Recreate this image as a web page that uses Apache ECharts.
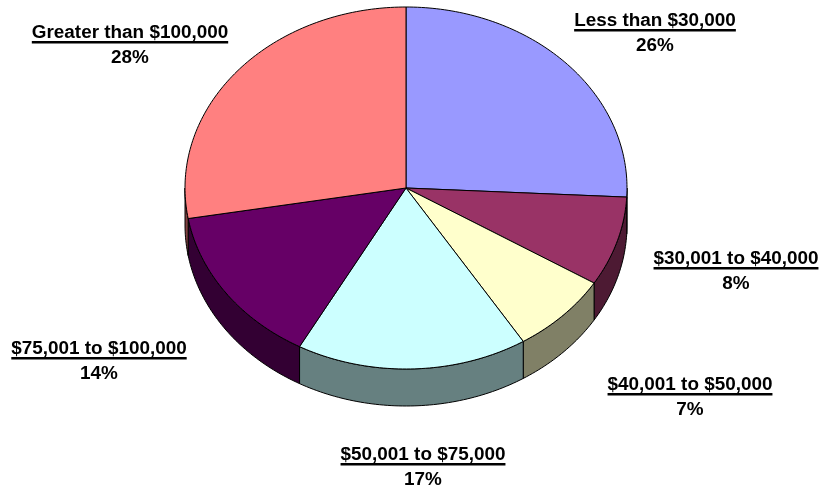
<!DOCTYPE html>
<html>
<head>
<meta charset="utf-8">
<style>html,body{margin:0;padding:0;background:#fff}#c{width:821px;height:488px}</style>
<script src="https://cdn.jsdelivr.net/npm/echarts@6/dist/echarts.min.js"></script>
</head>
<body>
<div id="c"></div>
<script>
const categories = ['Less than $30,000','$30,001 to $40,000','$40,001 to $50,000','$50,001 to $75,000','$75,001 to $100,000','Greater than $100,000'];
const shares = [25.8, 8, 7.3, 16.9, 14.3, 27.7];
const topColors = ['#9999FF','#993366','#FFFFCC','#CCFFFF','#660066','#FF8080'];
const wallColors = ['#4D4D80','#4D1A33','#808066','#668080','#330033','#804040'];

// Layout of the tilted pie and of the label block centres (not data)
const PIE = {cx: 406, cy: 188, rx: 221, ry: 181, depth: 37};
const LABEL_POS = [[655,20],[736,258],[690,384],[423,454],[99,348],[130,32]];
const FONT_SIZE = 18.9;
const FONT = 'bold ' + FONT_SIZE + 'px "Liberation Sans", Arial, sans-serif';

const total = shares.reduce((a,b)=>a+b,0);
const rows = shares.map((v,i)=>{
  const before = shares.slice(0,i).reduce((a,b)=>a+b,0);
  return [i, v, before/total*360, (before+v)/total*360];
});
const pt = (deg,dy) => {
  const r = deg*Math.PI/180;
  return [PIE.cx+PIE.rx*Math.sin(r), PIE.cy-PIE.ry*Math.cos(r)+(dy||0)];
};
const arc = (a,b,dy) => {
  const n = Math.max(2,Math.ceil(Math.abs(b-a)));
  const out=[];
  for(let k=0;k<=n;k++) out.push(pt(a+(b-a)*k/n,dy));
  return out;
};
const measure = document.createElement('canvas').getContext('2d');
measure.font = FONT;

const chart = echarts.init(document.getElementById('c'),null,{renderer:'canvas'});
chart.setOption({
  animation:false,
  backgroundColor:'#fff',
  series:[
    { type:'custom', coordinateSystem:'none', z:1, silent:true, data:rows,
      renderItem(params,api){
        const i=api.value(0), a=Math.max(api.value(2),90), b=Math.min(api.value(3),270);
        if(b<=a) return {type:'group',children:[]};
        const pts=arc(a,b,0).concat(arc(b,a,PIE.depth));
        return {type:'polygon',shape:{points:pts},style:{fill:wallColors[i],stroke:'#000',lineWidth:1}};
      }},
    { type:'custom', coordinateSystem:'none', z:2, silent:true, data:rows,
      renderItem(params,api){
        const i=api.value(0);
        const pts=[[PIE.cx,PIE.cy]].concat(arc(api.value(2),api.value(3),0));
        return {type:'polygon',shape:{points:pts},style:{fill:topColors[i],stroke:'#000',lineWidth:1}};
      }},
    { type:'custom', coordinateSystem:'none', z:3, silent:true, data:rows,
      renderItem(params,api){
        const i=api.value(0), p=LABEL_POS[i], name=categories[i];
        const w=measure.measureText(name).width;
        const st=(t,y)=>({type:'text',style:{text:t,x:p[0],y:y,align:'center',verticalAlign:'middle',font:FONT,fill:'#000'}});
        return {type:'group',children:[
          st(name,p[1]+1),
          {type:'rect',shape:{x:p[0]-w/2,y:p[1]+9,width:w,height:2.5},style:{fill:'#000'}},
          st(Math.round(api.value(1))+'%',p[1]+26)
        ]};
      }}
  ]
});
</script>
</body>
</html>
